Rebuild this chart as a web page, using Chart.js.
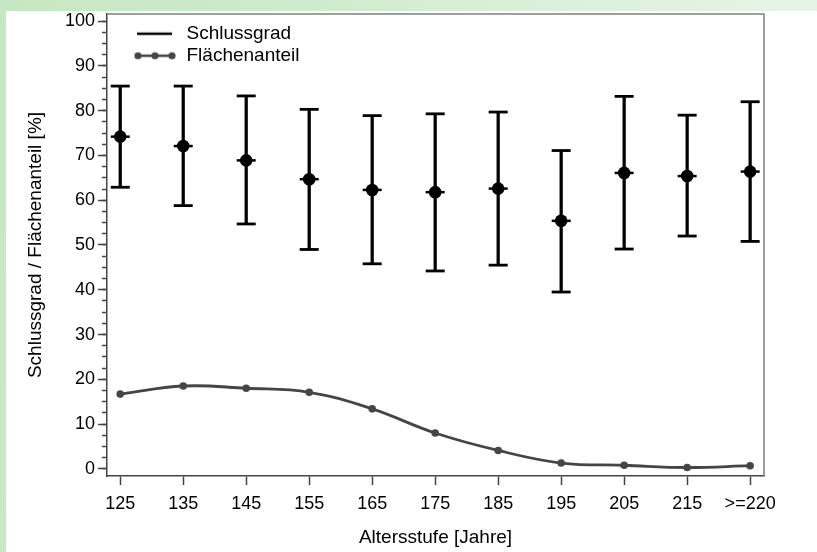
<!DOCTYPE html>
<html><head><meta charset="utf-8">
<script src="https://cdn.jsdelivr.net/npm/chart.js@4.4.1/dist/chart.umd.min.js"></script>
<style>
html,body{margin:0;padding:0;width:817px;height:552px;overflow:hidden;
background:linear-gradient(100deg,#c6e7c4 0%,#cdeacb 30%,#dbf0da 60%,#eaf6e9 100%);}
#panel{position:absolute;left:6px;top:11px;width:811px;height:541px;background:#fff;}
canvas{display:block}
</style></head><body>
<div id="panel"><canvas id="c" width="811" height="541"></canvas></div>
<script>
// ---- data ----
const categories = ['125','135','145','155','165','175','185','195','205','215','>=220'];
const schlussMean = [74.2, 72.1, 68.9, 64.7, 62.3, 61.8, 62.6, 55.4, 66.1, 65.4, 66.4];
const schlussLow  = [62.9, 58.8, 54.7, 49.0, 45.8, 44.2, 45.5, 39.5, 49.1, 52.0, 50.8];
const schlussHigh = [85.5, 85.5, 83.3, 80.3, 78.9, 79.3, 79.7, 71.1, 83.2, 79.0, 82.0];
const flaeche     = [16.7, 18.5, 18.0, 17.1, 13.4, 8.0, 4.1, 1.3, 0.8, 0.3, 0.7];
const yMajorTicks = [0,10,20,30,40,50,60,70,80,90,100];
const yMinorTicks = [];
for (let v = 0; v <= 100; v += 2.5) yMinorTicks.push(v);
const legendLabels = ['Schlussgrad','Flächenanteil'];

Chart.defaults.font.family = "'Liberation Sans', Arial, sans-serif";
Chart.defaults.color = '#000';

function makeMarker(kind){
  const c = document.createElement('canvas');
  c.width = 67; c.height = 12;
  const g = c.getContext('2d');
  g.lineWidth = 2.5;
  if (kind === 'line') {
    g.strokeStyle = '#000';
    g.beginPath(); g.moveTo(27,6); g.lineTo(62,6); g.stroke();
  } else {
    g.strokeStyle = '#454545'; g.fillStyle = '#454545';
    g.beginPath(); g.moveTo(28,6); g.lineTo(62,6); g.stroke();
    [28,45,62].forEach(x => { g.beginPath(); g.arc(x,6,3.6,0,Math.PI*2); g.fill(); });
  }
  return c;
}
const markers = [makeMarker('line'), makeMarker('dots')];

const framePlugin = {
  id: 'frame',
  afterDatasetsDraw(chart){
    const {ctx, chartArea: a} = chart;
    ctx.save();
    ctx.strokeStyle = '#808080'; ctx.lineWidth = 1.5;
    ctx.beginPath(); ctx.moveTo(a.left, a.top); ctx.lineTo(a.right, a.top); ctx.lineTo(a.right, a.bottom); ctx.stroke();
    ctx.restore();
  }
};

const noPad = s => { s.paddingTop = 0; s.paddingBottom = 0; s.paddingLeft = 0; s.paddingRight = 0; };
const idx = categories.map((_, i) => i);

new Chart(document.getElementById('c'), {
  type: 'scatter',
  data: {
    datasets: [
      { type:'scatter', label:'mean', data: idx.map(i => ({x:i, y:schlussMean[i]})),
        pointStyle:'circle', pointRadius:6.3, pointBorderWidth:0, pointBackgroundColor:'#000', order:0 },
      { type:'scatter', label:'meanDash', data: idx.map(i => ({x:i, y:schlussMean[i]})),
        pointStyle:'line', pointRadius:9.5, pointBorderWidth:2.5, pointBorderColor:'#000', order:1 },
      { type:'scatter', label:'caps', data: idx.map(i => ({x:i, y:schlussLow[i]})).concat(idx.map(i => ({x:i, y:schlussHigh[i]}))),
        pointStyle:'line', pointRadius:9.5, pointBorderWidth:2.8, pointBorderColor:'#000', order:2 },
      { type:'bar', label:'range', data: idx.map(i => ({x:i, y:[schlussLow[i], schlussHigh[i]]})),
        backgroundColor:'#000', borderWidth:0, barThickness:2.6, order:3 },
      { type:'line', label:'Flächenanteil', data: idx.map(i => ({x:i, y:flaeche[i]})),
        borderColor:'#454545', borderWidth:2.8, tension:0.4, fill:false,
        pointRadius:3.8, pointBorderWidth:0, pointBackgroundColor:'#454545', order:4 }
    ]
  },
  options: {
    responsive:false, animation:false, devicePixelRatio:1,
    layout: { autoPadding:false, padding: { left:0, top:3, right:53, bottom:0 } },
    plugins: {
      tooltip: { enabled:false },
      legend: {
        position:'chartArea', align:'start',
        title: { display:true, text:' ', font:{size:1}, padding:{top:9, bottom:0} },
        labels: {
          usePointStyle:true, pointStyleWidth:67, padding:3, color:'#000',
          font:{ size:19 },
          generateLabels: () => legendLabels.map((t, i) => ({
            text:t, pointStyle:markers[i], fillStyle:'#000', strokeStyle:'#000',
            lineWidth:0, hidden:false, fontColor:'#000', datasetIndex: i === 0 ? 0 : 4
          }))
        }
      }
    },
    scales: {
      x: {
        type:'linear', min:-0.21, max:10.22, offset:false,
        afterBuildTicks: s => { s.ticks = idx.map(v => ({value:v})); },
        ticks: { callback: v => categories[v], font:{size:18}, color:'#000', padding:8, autoSkip:false, maxRotation:0 },
        grid: { drawOnChartArea:false, tickLength:9, tickColor:'#444', tickWidth:1.5, offset:false },
        border: { color:'#444', width:1.5 },
        title: { display:true, text:'Altersstufe [Jahre]', font:{size:19}, color:'#000', padding:{top:0, bottom:3} },
        afterFit: s => { s.height = 76; noPad(s); }
      },
      y: {
        type:'linear', position:'left', weight:10, min:-1.6, max:101.6,
        afterBuildTicks: s => { s.ticks = yMajorTicks.map(v => ({value:v})); },
        ticks: { callback: v => String(v), font:{size:18}, color:'#000', padding:3 },
        grid: { drawOnChartArea:false, tickLength:9, tickColor:'#444', tickWidth:1.5 },
        border: { color:'#444', width:1.5 },
        title: { display:true, text:'Schlussgrad / Flächenanteil [%]', font:{size:19}, color:'#000', padding:{top:18, bottom:0} },
        afterFit: s => { s.width = 101; noPad(s); }
      },
      yMinor: {
        type:'linear', position:'left', weight:0, min:-1.6, max:101.6,
        afterBuildTicks: s => { s.ticks = yMinorTicks.map(v => ({value:v})); },
        ticks: { display:false },
        grid: { drawOnChartArea:false, tickLength:5, tickColor:'#444', tickWidth:1.5 },
        border: { display:false },
        afterFit: s => { s.width = 0; noPad(s); }
      }
    }
  },
  plugins: [framePlugin]
});
</script>
</body></html>
